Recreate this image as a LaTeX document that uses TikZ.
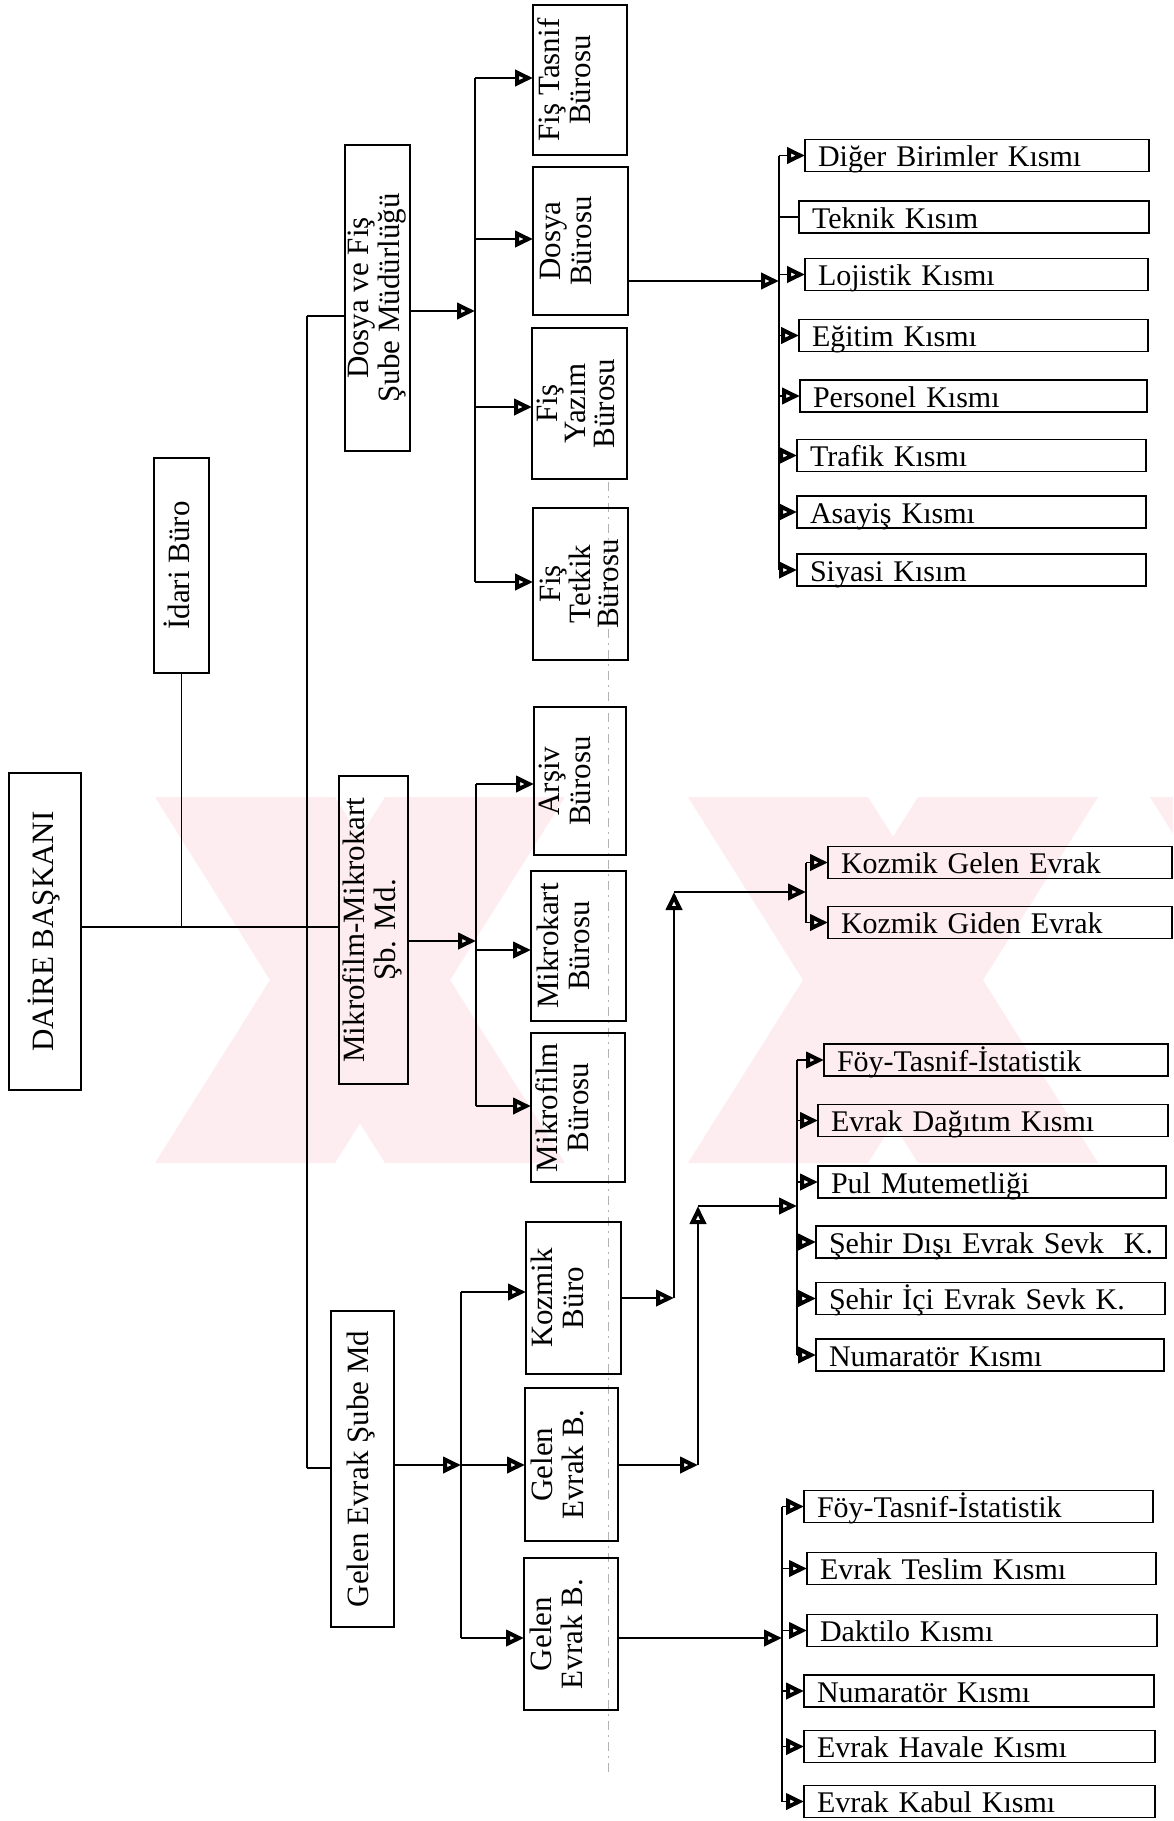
\documentclass[tikz,border=0pt]{standalone}
\usepackage{fontspec}
\setmainfont{Liberation Serif}
\usetikzlibrary{arrows.meta}
\definecolor{wm}{RGB}{253,236,240}
\newcommand{\vtxt}[1]{\rotatebox{90}{\begin{tabular}{@{}c@{}}#1\end{tabular}}}
\newcommand{\mkvbox}[7][]{%
  \pgfmathsetmacro{\mycx}{(#3+#4)/2}%
  \pgfmathsetmacro{\mycy}{(#5+#6)/2}%
  \pgfmathsetmacro{\mybw}{#4-#3}%
  \pgfmathsetmacro{\mybh}{#6-#5}%
  \node[box, minimum width=\mybw pt, minimum height=\mybh pt, #1] (#2) at (\mycx,\mycy) {#7};}
\newcommand{\mkhbox}[5]{%
  \pgfmathsetmacro{\mytw}{#3-#2-26}%
  \node[kbox, text width=\mytw pt] (#1) at (#2,#4) {\mbox{#5}};}
\begin{document}
\begin{tikzpicture}[x=1pt,y=-1pt,
  every node/.style={inner sep=0pt, outer sep=0pt},
  box/.style={draw, line width=1.8pt, font=\fontsize{31}{31}\selectfont},
  kbox/.style={draw, line width=1.8pt, anchor=west, minimum height=32pt,
    inner xsep=13pt, inner ysep=0pt, align=left,
    font=\fontsize{30}{30}\selectfont, text height=25pt, text depth=3pt},
  ln/.style={line width=1.6pt},
  arr/.style={ln, -{Triangle[open, length=18pt, width=16pt, line width=4pt]}},
  scan/.style={line width=0.9pt, gray!60, dash pattern=on 9pt off 5pt on 2pt off 5pt},
]
\fill[white] (0,0) rectangle (1173,1821);
\useasboundingbox (0,0) rectangle (1173,1821);

% watermark
\begin{scope}
\clip (140,797) rectangle (1173,1163);
\fill[wm] (155,797) -- (335,797) -- (565,1163) -- (385,1163) -- cycle;
\fill[wm] (385,797) -- (565,797) -- (335,1163) -- (155,1163) -- cycle;
\fill[wm] (688,797) -- (868,797) -- (1098,1163) -- (918,1163) -- cycle;
\fill[wm] (918,797) -- (1098,797) -- (868,1163) -- (688,1163) -- cycle;
\fill[wm] (1150,797) -- (1330,797) -- (1560,1163) -- (1380,1163) -- cycle;
\end{scope}

% scan line
\coordinate (scanA) at (608,482);
\coordinate (scanB) at (608,1775);
\draw[scan] (scanA) -- (scanB);

% top-level boxes
\mkvbox{daire}{9}{81}{773}{1090}{\vtxt{DAİRE BAŞKANI}}
\mkvbox{idari}{154}{209}{458}{673}{\vtxt{İdari Büro}}
\mkvbox{dosyafis}{345}{410}{145}{451}{\vtxt{Dosya ve Fiş\\Şube Müdürlüğü}}
\mkvbox{mikro}{339}{408}{776}{1084}{\vtxt{Mikrofilm-Mikrokart\\Şb. Md.}}
\mkvbox{gelen}{331}{394}{1311}{1627}{\vtxt{Gelen Evrak Şube Md}}

% bureaus
\mkvbox{fistasnif}{533}{627}{5}{155}{\vtxt{Fiş Tasnif\\Bürosu}\hspace*{22pt}}
\mkvbox{dosyab}{533}{628}{167}{315}{\vtxt{Dosya\\Bürosu}\hspace*{22pt}}
\mkvbox[font=\fontsize{31}{27}\selectfont]{fisyazim}{532}{627}{328}{479}{\vtxt{Fiş\\Yazım\\Bürosu}}
\mkvbox[font=\fontsize{31}{27}\selectfont]{fistetkik}{533}{628}{508}{660}{\vtxt{Fiş\\Tetkik\\Bürosu}\hspace*{-6pt}}
\mkvbox{arsiv}{534}{626}{707}{855}{\vtxt{Arşiv\\Bürosu}\hspace*{22pt}}
\mkvbox{mikrokart}{531}{626}{871}{1021}{\vtxt{Mikrokart\\Bürosu}\hspace*{22pt}}
\mkvbox{mikrofilm}{531}{625}{1033}{1182}{\vtxt{Mikrofilm\\Bürosu}\hspace*{22pt}}
\mkvbox{kozmik}{526}{621}{1222}{1374}{\vtxt{Kozmik\\Büro}\hspace*{24pt}}
\mkvbox{gelenbA}{525}{618}{1388}{1541}{\vtxt{Gelen\\Evrak B.}\hspace*{20pt}}
\mkvbox{gelenbB}{524}{618}{1558}{1710}{\vtxt{Gelen\\Evrak B.}\hspace*{20pt}}

% units, group 1
\mkhbox{diger}{805}{1149}{155.5}{Diğer Birimler Kısmı}
\mkhbox{teknik}{799}{1149}{217}{Teknik Kısım}
\mkhbox{lojistik}{805}{1148}{274.5}{Lojistik Kısmı}
\mkhbox{egitim}{799}{1148}{335.5}{Eğitim Kısmı}
\mkhbox{personel}{800}{1147}{396}{Personel Kısmı}
\mkhbox{trafik}{797}{1146}{455.5}{Trafik Kısmı}
\mkhbox{asayis}{797}{1146}{512}{Asayiş Kısmı}
\mkhbox{siyasi}{797}{1146}{570}{Siyasi Kısım}
% kozmik units
\mkhbox{kgelen}{828}{1172}{862.5}{Kozmik Gelen Evrak}
\mkhbox{kgiden}{828}{1172}{922.5}{Kozmik Giden Evrak}
% group 2
\mkhbox{foyA}{824}{1168}{1060}{Föy-Tasnif-İstatistik}
\mkhbox{dagitim}{818}{1168}{1120.5}{Evrak Dağıtım Kısmı}
\mkhbox{pul}{818}{1166}{1182}{Pul Mutemetliği}
\mkhbox{sdisi}{816}{1166}{1242}{Şehir Dışı Evrak Sevk\ \ K.}
\mkhbox{sici}{816}{1165}{1298.5}{Şehir İçi Evrak Sevk K.}
\mkhbox{numA}{816}{1164}{1355}{Numaratör Kısmı}
% group 3
\mkhbox{foyB}{804}{1153}{1506.5}{Föy-Tasnif-İstatistik}
\mkhbox{teslim}{807}{1156}{1568.5}{Evrak Teslim Kısmı}
\mkhbox{daktilo}{807}{1157}{1630.5}{Daktilo Kısmı}
\mkhbox{numB}{804}{1154}{1691}{Numaratör Kısmı}
\mkhbox{havale}{804}{1155}{1746.5}{Evrak Havale Kısmı}
\mkhbox{kabul}{804}{1155}{1801.5}{Evrak Kabul Kısmı}

% ---- trunk and top connections
\coordinate (tA) at (307,316);
\coordinate (tB) at (307,1468);
\coordinate (jI) at (181.5,927);
\draw[ln] (tA) -- (tB);
\draw[ln] (tA) -- (tA -| dosyafis.west);
\draw[ln] (daire.east |- jI) -- (mikro.west |- jI);
\draw[ln] (idari.south) -- (jI);
\draw[ln] (tB) -- (tB -| gelen.west);

% ---- bus A (Dosya ve Fiş)
\coordinate (a1) at (475,78);
\coordinate (a2) at (475,239);
\coordinate (a3) at (475,407);
\coordinate (a4) at (475,582);
\coordinate (aIn) at (475,311);
\draw[ln] (a1) -- (a4);
\draw[arr] (dosyafis.east |- aIn) -- (aIn);
\draw[arr] (a1) -- (a1 -| fistasnif.west);
\draw[arr] (a2) -- (a2 -| dosyab.west);
\draw[arr] (a3) -- (a3 -| fisyazim.west);
\draw[arr] (a4) -- (a4 -| fistetkik.west);

% ---- bus B (Mikrofilm)
\coordinate (b1) at (476,784);
\coordinate (b2) at (476,950);
\coordinate (b3) at (476,1106);
\coordinate (bIn) at (476,941);
\draw[ln] (b1) -- (b3);
\draw[arr] (mikro.east |- bIn) -- (bIn);
\draw[arr] (b1) -- (b1 -| arsiv.west);
\draw[arr] (b2) -- (b2 -| mikrokart.west);
\draw[arr] (b3) -- (b3 -| mikrofilm.west);

% ---- bus C (Gelen Evrak)
\coordinate (c1) at (461,1292);
\coordinate (c2) at (461,1465);
\coordinate (c3) at (461,1638);
\draw[ln] (c1) -- (c3);
\draw[arr] (gelen.east |- c2) -- (c2);
\draw[arr] (c1) -- (c1 -| kozmik.west);
\draw[arr] (c2) -- (c2 -| gelenbA.west);
\draw[arr] (c3) -- (c3 -| gelenbB.west);

% ---- bus 1 (Dosya Bürosu units)
\coordinate (d1) at (779,155.5);
\coordinate (d2) at (779,217);
\coordinate (d3) at (779,274.5);
\coordinate (d4) at (779,335.5);
\coordinate (d5) at (779,396);
\coordinate (d6) at (779,455.5);
\coordinate (d7) at (779,512);
\coordinate (d8) at (779,570);
\coordinate (dIn) at (779,281);
\draw[ln] (d1) -- (d8);
\draw[arr] (dosyab.east |- dIn) -- (dIn);
\draw[arr] (d1) -- (diger.west);
\draw[ln] (d2) -- (teknik.west);
\draw[arr] (d3) -- (lojistik.west);
\draw[arr] (d4) -- (egitim.west);
\draw[arr] (d5) -- (personel.west);
\draw[arr] (d6) -- (trafik.west);
\draw[arr] (d7) -- (asayis.west);
\draw[arr] (d8) -- (siyasi.west);

% ---- Kozmik Büro -> kozmik units
\coordinate (kz1) at (674,1298);
\coordinate (kz2) at (674,892);
\coordinate (kz3) at (806,892);
\coordinate (k1) at (806,862.5);
\coordinate (k2) at (806,922.5);
\draw[arr] (kozmik.east |- kz1) -- (kz1);
\draw[arr] (kz1) -- (kz2);
\draw[arr] (kz2) -- (kz3);
\draw[ln] (k1) -- (k2);
\draw[arr] (k1) -- (kgelen.west);
\draw[arr] (k2) -- (kgiden.west);

% ---- Gelen Evrak B. (1) -> group 2
\coordinate (gz1) at (698,1465);
\coordinate (gz2) at (698,1206);
\coordinate (gz3) at (797,1206);
\coordinate (e1) at (797,1060);
\coordinate (e2) at (797,1120.5);
\coordinate (e3) at (797,1182);
\coordinate (e4) at (797,1242);
\coordinate (e5) at (797,1298.5);
\coordinate (e6) at (797,1355);
\draw[arr] (gelenbA.east |- gz1) -- (gz1);
\draw[arr] (gz1) -- (gz2);
\draw[arr] (gz2) -- (gz3);
\draw[ln] (e1) -- (e6);
\draw[arr] (e1) -- (foyA.west);
\draw[arr] (e2) -- (dagitim.west);
\draw[arr] (e3) -- (pul.west);
\draw[arr] (e4) -- (sdisi.west);
\draw[arr] (e5) -- (sici.west);
\draw[arr] (e6) -- (numA.west);

% ---- Gelen Evrak B. (2) -> group 3
\coordinate (f1) at (782,1506.5);
\coordinate (f2) at (782,1568.5);
\coordinate (f3) at (782,1630.5);
\coordinate (f4) at (782,1691);
\coordinate (f5) at (782,1746.5);
\coordinate (f6) at (782,1801.5);
\coordinate (fIn) at (782,1638);
\draw[ln] (f1) -- (f6);
\draw[arr] (gelenbB.east |- fIn) -- (fIn);
\draw[arr] (f1) -- (foyB.west);
\draw[arr] (f2) -- (teslim.west);
\draw[arr] (f3) -- (daktilo.west);
\draw[arr] (f4) -- (numB.west);
\draw[arr] (f5) -- (havale.west);
\draw[arr] (f6) -- (kabul.west);
\end{tikzpicture}
\end{document}
